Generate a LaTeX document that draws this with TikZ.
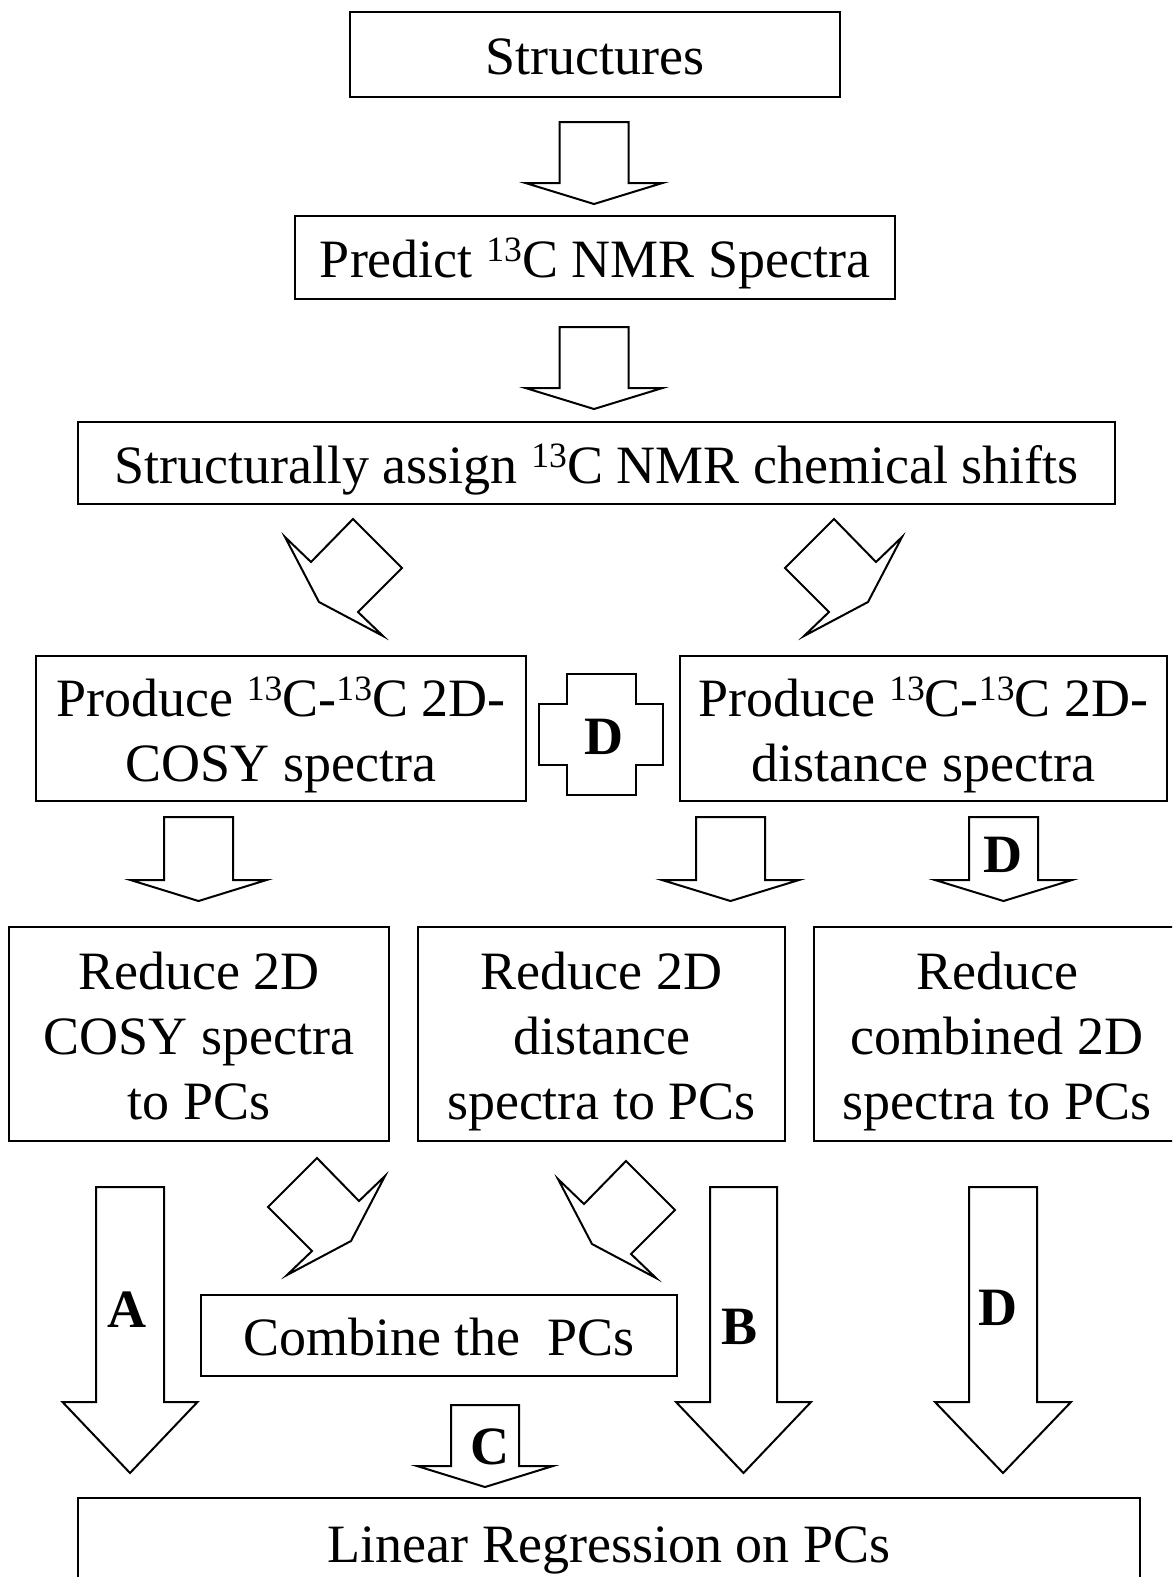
\documentclass[tikz,border=0pt]{standalone}
\usepackage{fontspec}
\setmainfont{Liberation Serif}
\usepackage{tikz}

\newcommand{\sups}[1]{\raisebox{0.29em}{\fontsize{8.9}{10}\selectfont#1}}
\newcommand{\tstrut}{\rule{0pt}{13pt}}
\newcommand{\bstrut}{\rule[-3pt]{0pt}{3pt}}
\newcommand{\blockarrow}[6]{\draw[arrowline] (#1-#5,#2) -- (#1+#5,#2) -- (#1+#5,#3) -- (#1+#6,#3) -- (#1,#4) -- (#1-#6,#3) -- (#1-#5,#3) -- cycle;}

\tikzset{diagarrow/.pic={\draw[arrowline] (-71,-28) -- (-45,-3) -- (-3,-46) -- (46,3) -- (2,47) -- (27,71) -- (-37,37) -- cycle;}}

\begin{document}
\begin{tikzpicture}[x=0.25pt, y=-0.25pt,
                    font=\fontsize{13.5}{16.25}\selectfont,
                    box/.style={draw, line width=0.5pt, align=center, inner sep=0pt},
                    arrowline/.style={draw, line width=0.5pt, line join=miter},
                    lbl/.style={font=\fontsize{13.5}{16.25}\selectfont\bfseries, inner sep=0pt}]

    \useasboundingbox (0,0) rectangle (1172,1577);
    \clip (0,0) rectangle (1172,1577);

    \node[box, minimum width=122.5pt, minimum height=21.25pt] (struct) at (595,54.5) {\tstrut Structures\bstrut};
    \node[box, minimum width=150pt, minimum height=20.75pt] (predict) at (595,257.5) {\tstrut Predict \sups{13}C NMR Spectra\bstrut};
    \node[box, minimum width=259.25pt, minimum height=20.5pt] (assign) at (596.5,463) {\tstrut Structurally assign \sups{13}C NMR chemical shifts\bstrut};
    \node[box, minimum width=122.5pt, minimum height=36.25pt] (cosy) at (281,728.5) {\tstrut Produce \sups{13}C-\sups{13}C 2D-\\COSY spectra\bstrut};
    \node[box, minimum width=121.75pt, minimum height=36.25pt] (dist) at (923.5,728.5) {\tstrut Produce \sups{13}C-\sups{13}C 2D-\\distance spectra\bstrut};
    \node[box, minimum width=95pt, minimum height=53.5pt] (redcosy) at (199,1034) {\tstrut Reduce 2D\\COSY spectra\\to PCs\bstrut};
    \node[box, minimum width=91.75pt, minimum height=53.5pt] (reddist) at (601.5,1034) {\tstrut Reduce 2D\\distance\\spectra to PCs\bstrut};
    \node[box, minimum width=91.5pt, minimum height=53.5pt] (redcomb) at (997,1034) {\tstrut Reduce\\combined 2D\\spectra to PCs\bstrut};
    \node[box, minimum width=119pt, minimum height=20.25pt] (combine) at (439,1335.5) {\tstrut Combine the\ \ PCs\bstrut};
    \node[box, minimum width=265.5pt, minimum height=50pt, anchor=north] (linear) at (609,1497) {};
    \node[anchor=base, inner sep=0pt] (lineartext) at (609,1562) {Linear Regression on PCs};

    \blockarrow{594}{122}{183}{204}{34.5}{68.5}
    \blockarrow{594}{327}{388}{409}{34.5}{68.5}
    \blockarrow{198.5}{817}{880}{901}{34.5}{68}
    \blockarrow{730.5}{817}{880}{901}{34.5}{68.5}
    \blockarrow{1003.5}{817}{880}{901}{34.5}{68.5}
    \blockarrow{130}{1187}{1402}{1473}{34}{67.5}
    \blockarrow{743.5}{1187}{1402}{1473}{33.5}{67.5}
    \blockarrow{1003}{1187}{1402}{1473}{34}{68}
    \blockarrow{485}{1405}{1466}{1487}{34}{68}

    \draw[arrowline] (567,674) -- (636,674) -- (636,704) -- (663,704) -- (663,765) -- (636,765)
                     -- (636,795) -- (567,795) -- (567,765) -- (539,765) -- (539,704) -- (567,704) -- cycle;

    \pic (dtl) at (356,565) {diagarrow};
    \pic[xscale=-1] (dtr) at (831,565) {diagarrow};
    \pic[xscale=-1] (dbl) at (314,1204) {diagarrow};
    \pic (dbr) at (629,1207) {diagarrow};

    \node[lbl] (dcross) at (604,737) {D};
    \node[lbl] (dmid) at (1003,855) {D};
    \node[lbl] (la) at (127,1310) {A};
    \node[lbl] (lb) at (740,1327) {B};
    \node[lbl] (ld) at (998,1308) {D};
    \node[lbl] (lc) at (490,1447) {C};
\end{tikzpicture}
\end{document}
